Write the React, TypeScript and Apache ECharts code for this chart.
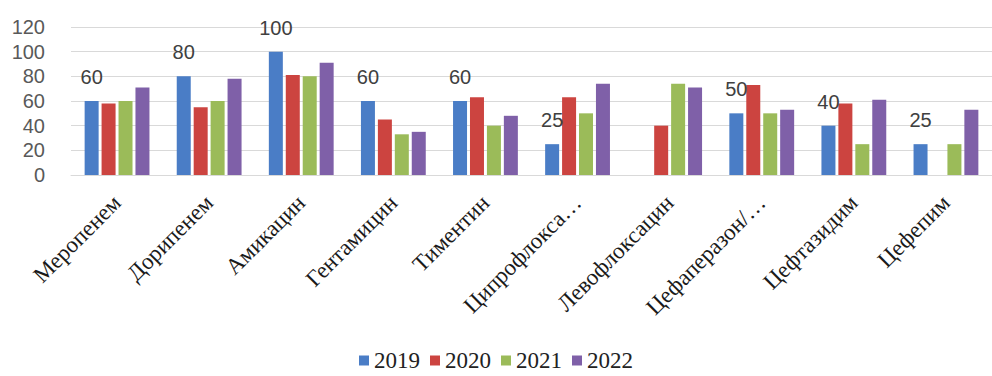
import React, { useEffect, useRef } from "react";
import * as echarts from "echarts";

const categories = [
  "Меропенем",
  "Дорипенем",
  "Амикацин",
  "Гентамицин",
  "Тиментин",
  "Ципрофлокса…",
  "Левофлоксацин",
  "Цефаперазон/…",
  "Цефтазидим",
  "Цефепим",
];
const years = ["2019", "2020", "2021", "2022"];
const v2019 = [60, 80, 100, 60, 60, 25, null, 50, 40, 25];
const v2020 = [58, 55, 81, 45, 63, 63, 40, 73, 58, null];
const v2021 = [60, 60, 80, 33, 40, 50, 74, 50, 25, 25];
const v2022 = [71, 78, 91, 35, 48, 74, 71, 53, 61, 53];
const colors = ["#4a7dc6", "#cc4440", "#9bbb59", "#7f60a8"];

export default function App() {
  const ref = useRef<HTMLDivElement>(null);
  useEffect(() => {
    document.body.style.margin = "0";
    const chart = echarts.init(ref.current!, null, { renderer: "svg" });
    const all = [v2019, v2020, v2021, v2022];
    chart.setOption({
      animation: false,
      color: colors,
      grid: { left: 71, right: -4, top: 27, bottom: 201, containLabel: false },
      legend: {
        data: years,
        top: 344,
        left: "center",
        icon: "rect",
        itemWidth: 10,
        itemHeight: 10,
        itemGap: 10,
        textStyle: { fontFamily: "Liberation Serif", fontSize: 23, color: "#222" },
      },
      xAxis: {
        type: "category",
        data: categories,
        axisTick: { show: false },
        axisLine: { lineStyle: { color: "#d9d9d9" } },
        axisLabel: {
          interval: 0,
          rotate: 45,
          margin: 24,
          fontFamily: "Liberation Serif",
          fontSize: 23,
          color: "#1a1a1a",
        },
      },
      yAxis: {
        type: "value",
        min: 0,
        max: 120,
        interval: 20,
        axisLine: { show: false },
        axisTick: { show: false },
        splitLine: { lineStyle: { color: "#d9d9d9" } },
        axisLabel: {
          margin: 26,
          fontFamily: "Liberation Sans",
          fontSize: 20,
          color: "#595959",
        },
      },
      series: years.map((y, i) => ({
        name: y,
        type: "bar",
        data: all[i],
        barWidth: 14,
        barGap: "21%",
        label:
          i === 0
            ? {
                show: true,
                position: "top",
                distance: 14,
                fontFamily: "Liberation Sans",
                fontSize: 20,
                color: "#404040",
              }
            : { show: false },
      })),
    });
    return () => chart.dispose();
  }, []);
  return <div ref={ref} style={{ width: 992, height: 376 }} />;
}
